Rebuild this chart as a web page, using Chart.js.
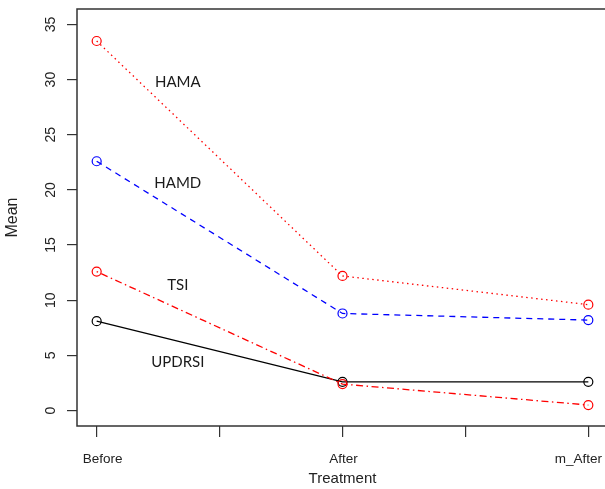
<!DOCTYPE html>
<html>
<head>
<meta charset="utf-8">
<script src="https://cdn.jsdelivr.net/npm/chart.js@4"></script>
<style>
  html, body { margin: 0; padding: 0; background: #fff; overflow: hidden; }
  canvas { display: block; }
</style>
</head>
<body>
<canvas id="chart" width="660" height="489"></canvas>
<script>
const categories = ["Before", "After", "m_After"];
const xTicks = [1, 1.5, 2, 2.5, 3];
const yTicks = [0, 5, 10, 15, 20, 25, 30, 35];

const hama = [33.5, 12.2, 9.6];
const hamd = [22.6, 8.8, 8.2];
const tsi = [12.6, 2.4, 0.5];
const updrsi = [8.1, 2.6, 2.6];

const seriesNames = ["HAMA", "HAMD", "TSI", "UPDRSI"];
const labelX = 1.33;
const labelY = [29.75, 20.6, 11.35, 4.4];

const axisFont = "'Liberation Sans', Arial, sans-serif";
// the outer category labels sit a little inwards in the original
const xLabelShift = [6, 1, -10];

function toPoints(values) {
  return values.map((v, i) => ({ x: i + 1, y: v }));
}

function lineSeries(label, values, color, dash) {
  return {
    label,
    data: toPoints(values),
    borderColor: color,
    backgroundColor: "transparent",
    borderWidth: 1.3,
    borderDash: dash,
    pointStyle: "circle",
    pointRadius: 4.5,
    pointBorderWidth: 1.2,
    pointBorderColor: color,
    pointBackgroundColor: "transparent",
    tension: 0,
  };
}

// box, tick labels, axis titles and series names
const decorations = {
  id: "decorations",
  afterDraw(chart) {
    const { ctx, chartArea, scales } = chart;
    ctx.save();
    ctx.strokeStyle = "#333";
    ctx.lineWidth = 1.5;
    ctx.strokeRect(chartArea.left, chartArea.top, chartArea.right - chartArea.left, chartArea.bottom - chartArea.top);

    ctx.fillStyle = "#222";
    ctx.textAlign = "center";
    ctx.textBaseline = "middle";
    ctx.font = `14px ${axisFont}`;
    yTicks.forEach((v) => {
      ctx.save();
      ctx.translate(51, scales.y.getPixelForValue(v));
      ctx.rotate(-Math.PI / 2);
      ctx.fillText(String(v), 0, 0);
      ctx.restore();
    });

    ctx.font = `13.5px ${axisFont}`;
    categories.forEach((name, i) => {
      ctx.fillText(name, scales.x.getPixelForValue(i + 1) + xLabelShift[i], 459);
    });

    ctx.font = `15px ${axisFont}`;
    ctx.fillText("Treatment", (chartArea.left + chartArea.right) / 2, 479);
    ctx.font = `16px ${axisFont}`;
    ctx.save();
    ctx.translate(13, (chartArea.top + chartArea.bottom) / 2);
    ctx.rotate(-Math.PI / 2);
    ctx.fillText("Mean", 0, 0);
    ctx.restore();

    ctx.font = "15px Lato, sans-serif";
    ctx.fillStyle = "#1a1a1a";
    seriesNames.forEach((name, i) => {
      ctx.fillText(name, scales.x.getPixelForValue(labelX), scales.y.getPixelForValue(labelY[i]));
    });
    ctx.restore();
  },
};

new Chart(document.getElementById("chart"), {
  type: "line",
  data: {
    datasets: [
      lineSeries("HAMA", hama, "#ff0000", [1.5, 3.5]),
      lineSeries("HAMD", hamd, "#0000ff", [6, 5]),
      lineSeries("TSI", tsi, "#ff0000", [1.5, 3.5, 7, 3.5]),
      lineSeries("UPDRSI", updrsi, "#000000", []),
    ],
  },
  options: {
    responsive: false,
    animation: false,
    layout: { padding: { top: 9, right: 52, left: 0, bottom: 0 } },
    plugins: {
      legend: { display: false },
      tooltip: { enabled: false },
    },
    scales: {
      x: {
        type: "linear",
        min: 0.92,
        max: 3.08,
        afterBuildTicks: (scale) => {
          scale.ticks = xTicks.map((v) => ({ value: v }));
        },
        afterFit: (scale) => {
          scale.height = 63;
        },
        ticks: { display: false },
        grid: {
          drawOnChartArea: false,
          drawTicks: true,
          tickLength: 11,
          color: "#333",
          lineWidth: 1.2,
        },
        border: { display: false },
      },
      y: {
        type: "linear",
        min: -1.4,
        max: 36.4,
        afterBuildTicks: (scale) => {
          scale.ticks = yTicks.map((v) => ({ value: v }));
        },
        afterFit: (scale) => {
          scale.width = 77;
        },
        ticks: { display: false },
        grid: {
          drawOnChartArea: false,
          drawTicks: true,
          tickLength: 10,
          color: "#333",
          lineWidth: 1.2,
        },
        border: { display: false },
      },
    },
  },
  plugins: [decorations],
});
</script>
</body>
</html>
